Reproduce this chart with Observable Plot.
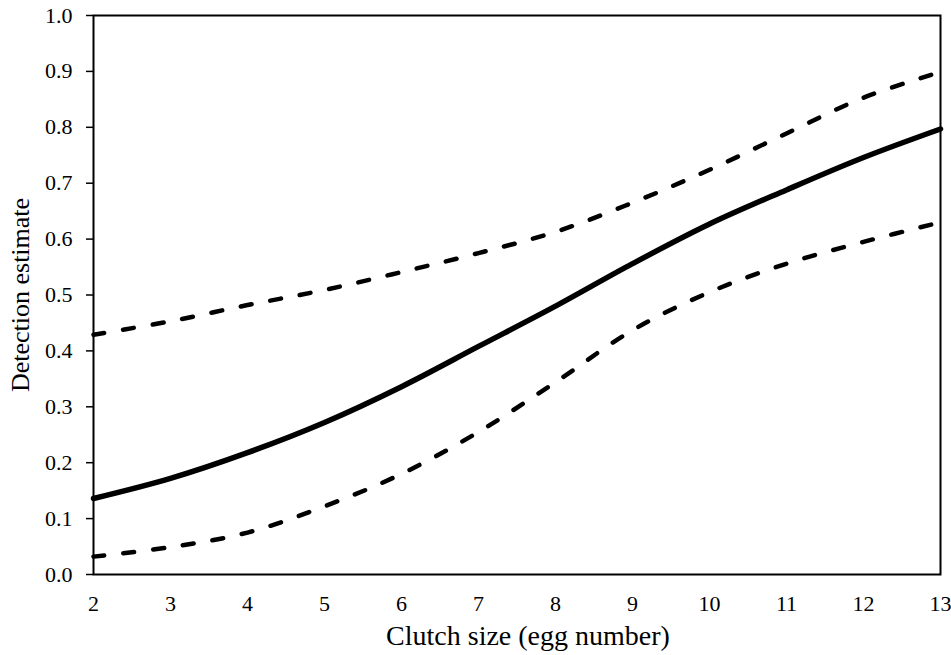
<!DOCTYPE html>
<html>
<head>
<meta charset="utf-8">
<script src="https://cdn.jsdelivr.net/npm/d3@7"></script>
<script src="https://cdn.jsdelivr.net/npm/@observablehq/plot@0.6"></script>
<style>
  html, body { margin: 0; padding: 0; background: #fff; }
  #chart { width: 951px; height: 655px; }
  #chart svg g[aria-label="y-axis tick label"],
  #chart svg g[aria-label="x-axis tick label"],
  #chart svg g[aria-label="y-axis tick label"] text,
  #chart svg g[aria-label="x-axis tick label"] text { font-size: 22px !important; }
</style>
</head>
<body>
<div id="chart"></div>
<script>
const clutchSize = [2, 3, 4, 5, 6, 7, 8, 9, 10, 11, 12, 13];
const estimate   = [0.136, 0.172, 0.218, 0.272, 0.336, 0.408, 0.480, 0.556, 0.627, 0.688, 0.746, 0.797];
const upperCI    = [0.429, 0.453, 0.482, 0.509, 0.541, 0.575, 0.613, 0.665, 0.724, 0.789, 0.853, 0.899];
const lowerCI    = [0.032, 0.049, 0.075, 0.122, 0.180, 0.255, 0.344, 0.437, 0.505, 0.556, 0.595, 0.630];
const yTicks = [0, 0.1, 0.2, 0.3, 0.4, 0.5, 0.6, 0.7, 0.8, 0.9, 1.0];
const xTitle = "Clutch size (egg number)";
const yTitle = "Detection estimate";

const est = clutchSize.map((x, i) => ({x, y: estimate[i]}));
const up = clutchSize.map((x, i) => ({x, y: upperCI[i]}));
const lo = clutchSize.map((x, i) => ({x, y: lowerCI[i]}));

const chart = Plot.plot({
  width: 951,
  height: 655,
  marginLeft: 93,
  marginRight: 11,
  marginTop: 15,
  marginBottom: 81,
  style: {fontFamily: "'Liberation Serif', 'Times New Roman', serif", fontSize: "22px", color: "#000", background: "#fff", overflow: "visible"},
  x: {domain: [2, 13]},
  y: {domain: [0, 1]},
  marks: [
    Plot.axisY({ticks: yTicks, tickFormat: d3.format(".1f"), tickSize: 7, tickPadding: 14, strokeWidth: 1.5, fontSize: 22,
      label: null}),
    Plot.axisX({ticks: clutchSize, tickSize: 0, tickPadding: 21, tickFormat: d3.format("d"), fontSize: 22,
      label: null}),
    Plot.text([yTitle], {frameAnchor: "left", textAnchor: "middle", lineAnchor: "middle", text: d => d, rotate: -90, dx: -73, fontSize: 26}),
    Plot.text([xTitle], {frameAnchor: "bottom", textAnchor: "middle", lineAnchor: "middle", text: d => d, dy: 62, dx: 11, fontSize: 28}),
    Plot.frame({stroke: "#000", strokeWidth: 2}),
    Plot.line(up, {x: "x", y: "y", stroke: "#000", strokeWidth: 4.5, strokeDasharray: "11,19", strokeLinecap: "round", curve: "catmull-rom"}),
    Plot.line(lo, {x: "x", y: "y", stroke: "#000", strokeWidth: 4.5, strokeDasharray: "11,19", strokeLinecap: "round", curve: "catmull-rom"}),
    Plot.line(est, {x: "x", y: "y", stroke: "#000", strokeWidth: 5.5, strokeLinecap: "round", curve: "catmull-rom"})
  ]
});
document.getElementById("chart").appendChild(chart);
</script>
</body>
</html>
